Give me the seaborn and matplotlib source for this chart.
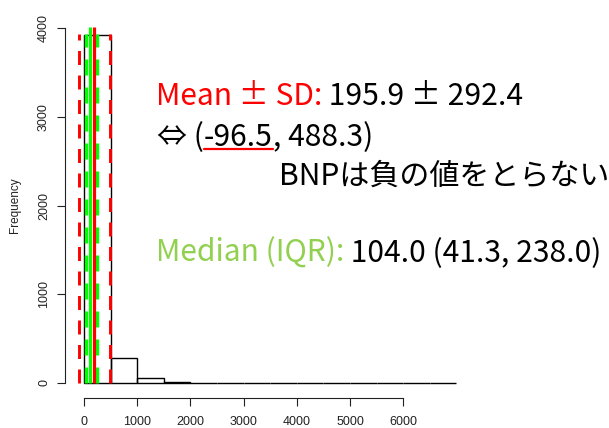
import numpy as np
import pandas as pd
import seaborn as sns
import matplotlib.pyplot as plt
from matplotlib.lines import Line2D

# histogram of BNP: 500-wide bins from 0 to 7000
bin_edges = [0, 500, 1000, 1500, 2000, 2500, 3000, 3500, 4000, 4500, 5000, 5500, 6000, 6500, 7000]
counts = [3921, 282, 56, 14, 4, 3, 2, 2, 1, 1, 1, 1, 0, 1]

mean_val = 195.9
sd_low, sd_high = -96.5, 488.3
median_val = 104.0
iqr_low, iqr_high = 41.3, 238.0

x_ticks = [0, 1000, 2000, 3000, 4000, 5000, 6000]
y_ticks = [0, 1000, 2000, 3000, 4000]

W, H = 609, 428

sns.set_style('white')
plt.rcParams['font.family'] = ['Liberation Sans', 'DejaVu Sans']
txt_font = ['Noto Sans CJK JP', 'DejaVu Sans']

fig = plt.figure(figsize=(W / 100, H / 100), dpi=100)
ax = fig.add_axes([0, 0, 1, 1])
ax.patch.set_alpha(0)

# pixel mapping: x0=84px, 53.2px per 1000; y0=383px, 88.75px per 1000
ax.set_xlim(-84 / 0.0532, (W - 84) / 0.0532)
ax.set_ylim((383 - H) / 0.08875, 383 / 0.08875)

centers = [(a + b) / 2 for a, b in zip(bin_edges[:-1], bin_edges[1:])]
df = pd.DataFrame({'bnp': centers, 'n': counts})
sns.histplot(data=df, x='bnp', weights='n', bins=bin_edges, fill=False,
             color='black', linewidth=1.0, ax=ax)

# mean +- SD (red), median & IQR (green)
dash = (0, (4.8, 3.6))
ax.vlines([sd_low, sd_high], 0, 3930, colors='#ff0000', linewidth=2.1, linestyles=[dash])
ax.vlines([iqr_low, iqr_high], 0, 3930, colors='#00ff00', linewidth=2.4, linestyles=[dash])
ax.vlines([median_val], 0, 4015, colors='#00ff00', linewidth=2.3)
ax.vlines([mean_val], 0, 4015, colors='#ff0000', linewidth=2.3)

# R style axes
for s in ['top', 'right']:
    ax.spines[s].set_visible(False)
ax.spines['left'].set_position(('data', (65 - 84) / 0.0532))
ax.spines['left'].set_bounds(0, 4000)
ax.spines['bottom'].set_position(('data', (383 - 397.5) / 0.08875))
ax.spines['bottom'].set_bounds(0, 6000)
for s in ['left', 'bottom']:
    ax.spines[s].set_color('#222222')
    ax.spines[s].set_linewidth(0.8)
ax.set_xticks(x_ticks)
ax.set_yticks(y_ticks)
ax.tick_params(axis='both', length=5.8, width=0.8, color='#222222', labelsize=9,
               labelcolor='#222222', direction='out')
ax.tick_params(axis='x', pad=7.5, bottom=True)
ax.tick_params(axis='y', pad=5.0, labelrotation=90, left=True)
for lab in ax.get_yticklabels():
    lab.set_va('center')
ax.set_xlabel('')
ax.set_ylabel('')
fig.text(15 / W, 1 - 205 / H, 'Frequency', rotation=90, ha='center', va='center',
         fontsize=8.5, color='#222222')

# annotation text
fs = 21.6
green_txt = '#92d050'


def piece_row(x, y, pieces):
    exts = []
    for s, c in pieces:
        t = fig.text(x / W, 1 - y / H, s, color=c, fontsize=fs, family=txt_font,
                     ha='left', va='baseline')
        fig.canvas.draw()
        e = t.get_window_extent()
        exts.append(e)
        x = e.x1
    return exts


piece_row(156, 105, [('Mean ± SD:', '#ff0000'), (' 195.9 ± 292.4', 'black')])
ex = piece_row(157, 146, [('⇔ (', 'black'), ('-96.5', 'black'), (', 488.3)', 'black')])
u = ex[1]
fig.add_artist(Line2D([u.x0 / W, u.x1 / W], [1 - 148.5 / H, 1 - 148.5 / H],
                      transform=fig.transFigure, color='#ff0000', linewidth=1.6))
piece_row(279, 185, [('BNPは負の値をとらない', 'black')])
piece_row(156, 262, [('Median (IQR):', green_txt), (' 104.0 (41.3, 238.0)', 'black')])

fig.savefig('out.png', dpi=100)
